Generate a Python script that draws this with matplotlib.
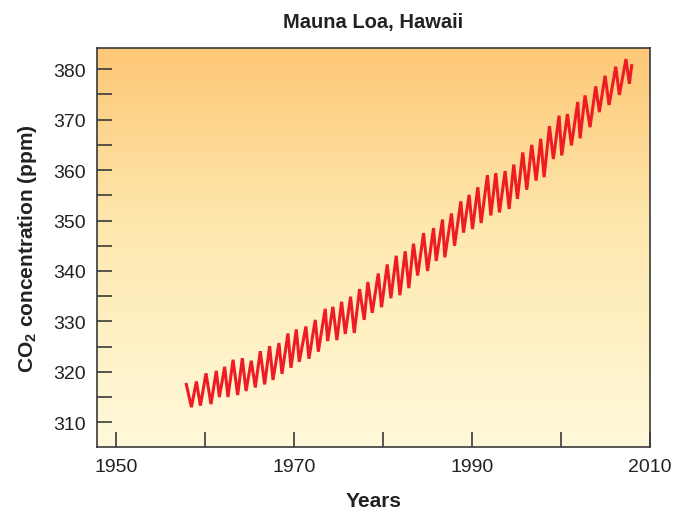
import matplotlib
matplotlib.use("Agg")
import matplotlib.pyplot as plt
import numpy as np
from matplotlib.colors import LinearSegmentedColormap

# Zigzag vertices of the seasonal CO2 curve (year, ppm)
years = [1957.89, 1958.46, 1959.02, 1959.47, 1960.10, 1960.66, 1961.26, 1961.60,
         1962.20, 1962.57, 1963.14, 1963.66, 1964.18, 1964.60, 1965.19, 1965.64,
         1966.20, 1966.69, 1967.25, 1967.63, 1968.30, 1968.64, 1969.31, 1969.65,
         1970.25, 1970.58, 1971.33, 1971.67, 1972.38, 1972.72, 1973.50, 1973.77,
         1974.36, 1974.81, 1975.34, 1975.75, 1976.35, 1976.76, 1977.36, 1977.88,
         1978.29, 1978.78, 1979.46, 1979.83, 1980.47, 1980.88, 1981.48, 1981.89,
         1982.49, 1982.90, 1983.42, 1983.89, 1984.55, 1985.00, 1985.67, 1985.97,
         1986.68, 1986.94, 1987.69, 1988.03, 1988.74, 1989.04, 1989.67, 1990.05,
         1990.65, 1991.02, 1991.73, 1992.11, 1992.67, 1993.08, 1993.72, 1994.17,
         1994.69, 1995.10, 1995.70, 1996.15, 1996.71, 1997.20, 1997.72, 1998.10,
         1998.70, 1999.14, 1999.78, 2000.08, 2000.72, 2001.17, 2001.88, 2002.14,
         2002.70, 2003.26, 2003.90, 2004.31, 2004.95, 2005.40, 2006.15, 2006.56,
         2007.30, 2007.68, 2007.94]
co2 = [317.5, 313.0, 318.1, 313.3, 319.7, 313.6, 320.2, 315.0,
       321.0, 315.0, 322.4, 315.4, 322.7, 316.2, 322.2, 316.9,
       324.1, 317.5, 325.1, 318.4, 325.7, 319.6, 327.6, 320.8,
       328.4, 322.0, 329.0, 322.6, 330.3, 324.0, 332.5, 326.1,
       332.9, 326.3, 333.9, 327.5, 334.9, 327.7, 336.4, 330.3,
       337.8, 331.7, 339.5, 332.8, 341.3, 334.6, 343.0, 335.2,
       343.9, 336.6, 345.4, 339.1, 347.5, 340.0, 348.5, 342.0,
       350.2, 342.7, 351.4, 345.0, 353.8, 347.6, 355.1, 348.3,
       356.6, 349.5, 359.0, 351.0, 359.4, 351.6, 359.8, 352.3,
       361.1, 354.3, 363.5, 356.1, 365.0, 357.9, 366.2, 358.6,
       368.7, 362.2, 370.8, 362.9, 371.1, 364.9, 373.5, 366.3,
       374.8, 368.5, 376.6, 371.5, 378.7, 372.9, 380.5, 374.9,
       382.0, 377.1, 380.7]

x_ticks = [1950, 1960, 1970, 1980, 1990, 2000, 2010]
x_tick_labels = ["1950", "", "1970", "", "1990", "", "2010"]
y_ticks = list(range(310, 385, 5))
y_tick_labels = [str(v) if v % 10 == 0 else "" for v in y_ticks]

title = "Mauna Loa, Hawaii"
x_label = "Years"
y_label = "CO$_\\mathbf{2}$ concentration (ppm)"

plt.rcParams['font.family'] = ['Liberation Sans', 'DejaVu Sans']
plt.rcParams['mathtext.fontset'] = 'custom'
plt.rcParams['mathtext.rm'] = 'Liberation Sans'
plt.rcParams['mathtext.bf'] = 'Liberation Sans:bold'

fig = plt.figure(figsize=(6.84, 5.10), dpi=100)
ax = fig.add_axes([97 / 684, 1 - 447.5 / 510, (650 - 97) / 684, (447.5 - 49) / 510])

xlim = (1947.85, 2010.0)
ylim = (305.2, 384.2)

cmap = LinearSegmentedColormap.from_list(
    "bg", [(0.0, "#FDC776"), (0.45, "#FEE8AE"), (1.0, "#FFF9DA")])
grad = np.linspace(0, 1, 256).reshape(-1, 1)
ax.imshow(grad, cmap=cmap, aspect="auto", extent=[xlim[0], xlim[1], ylim[0], ylim[1]],
          origin="upper", zorder=0, interpolation="bicubic")

ax.plot(years, co2, color="#EE1C25", linewidth=2.2, solid_joinstyle="miter", zorder=3)

ax.set_xlim(*xlim)
ax.set_ylim(*ylim)
ax.set_xticks(x_ticks)
ax.set_xticklabels(x_tick_labels)
ax.set_yticks(y_ticks)
ax.set_yticklabels(y_tick_labels)
ax.tick_params(direction="in", length=11, width=1.2, color="#3a3a3a",
               labelsize=14, labelcolor="#222222", pad=8)
for s in ax.spines.values():
    s.set_color("#3a3a3a")
    s.set_linewidth(1.2)

ax.set_title(title, fontsize=14.5, fontweight="bold", color="#222222", pad=15)
ax.set_xlabel(x_label, fontsize=15, fontweight="bold", color="#222222", labelpad=12)
ax.set_ylabel(y_label, fontsize=15, fontweight="bold", color="#222222", labelpad=10)

fig.savefig("out.png", dpi=100)
